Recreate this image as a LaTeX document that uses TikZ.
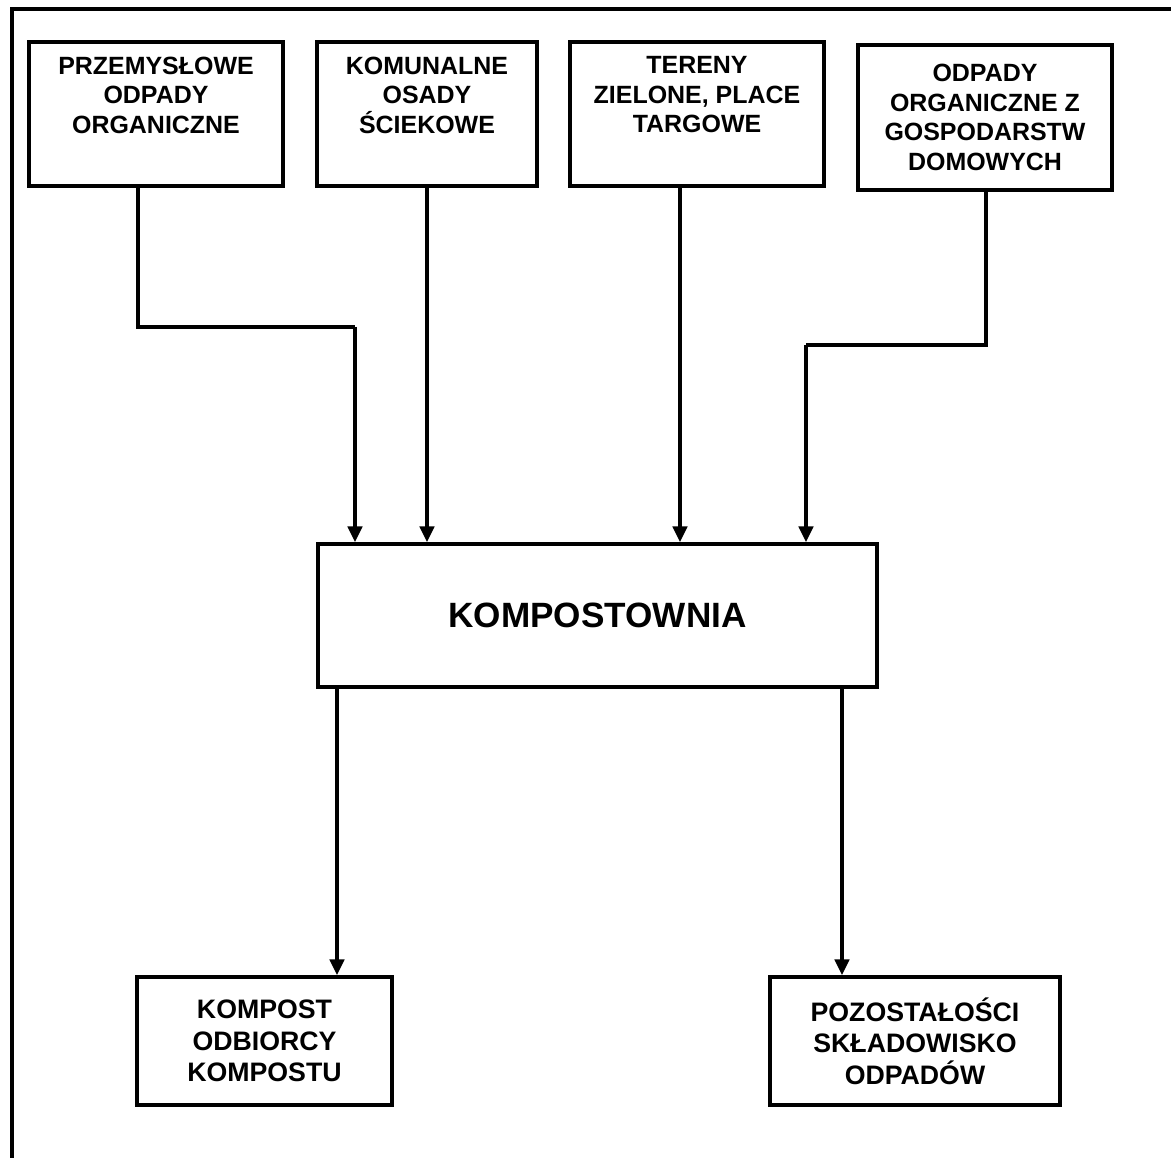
\documentclass[tikz,border=0pt]{standalone}
\usepackage{fontspec}
\setmainfont{Liberation Sans}
\usetikzlibrary{arrows.meta}

\def\pxu{0.02cm}

\tikzset{
  frame/.style={line width=2.5pt},
  srcbox/.style={draw, rectangle, line width=2pt, inner sep=0pt, align=center,
    font=\bfseries\fontsize{14.2}{16.8}\selectfont},
  mainbox/.style={draw, rectangle, line width=2pt, inner sep=0pt, align=center,
    font=\bfseries\fontsize{20}{23}\selectfont},
  endbox/.style={draw, rectangle, line width=2pt, inner sep=0pt, align=center,
    font=\bfseries\fontsize{15.2}{17.9}\selectfont},
  flow/.style={line width=2.5pt, -{Triangle[length=9pt,width=8pt]}},
  link/.style={line width=2.5pt}
}

\begin{document}
\begin{tikzpicture}[x=0.02cm, y=-0.02cm]
  \useasboundingbox (0,0) rectangle (1171,1158);

  % outer frame
  \draw[frame] (12,1200) -- (12,9) -- (1200,9);

  % sources
  \node[srcbox, minimum width=254*\pxu, minimum height=144*\pxu] (przem) at (156,114)
    {PRZEMYSŁOWE\\ODPADY\\ORGANICZNE\\\strut};
  \node[srcbox, minimum width=220*\pxu, minimum height=144*\pxu] (komun) at (427,114)
    {KOMUNALNE\\OSADY\\ŚCIEKOWE\\\strut};
  \node[srcbox, minimum width=254*\pxu, minimum height=144*\pxu] (tereny) at (697,114)
    {TERENY\\ZIELONE, PLACE\\TARGOWE\\\strut};
  \node[srcbox, minimum width=254*\pxu, minimum height=145*\pxu] (domowe) at (985,117.5)
    {ODPADY\\ORGANICZNE Z\\GOSPODARSTW\\DOMOWYCH};

  % composting plant
  \node[mainbox, minimum width=559*\pxu, minimum height=143*\pxu] (kompostownia) at (597.5,615.5)
    {KOMPOSTOWNIA};

  % outputs
  \node[endbox, minimum width=255*\pxu, minimum height=128*\pxu] (kompost) at (264.5,1041)
    {KOMPOST\\ODBIORCY\\KOMPOSTU};
  \node[endbox, minimum width=290*\pxu, minimum height=128*\pxu] (pozost) at (915,1041)
    {POZOSTAŁOŚCI\\SKŁADOWISKO\\ODPADÓW};

  % lanes
  \coordinate (lane1) at (138,0);
  \coordinate (bend1) at (355,327);
  \coordinate (lane2) at (427,0);
  \coordinate (lane3) at (680,0);
  \coordinate (lane4) at (986,0);
  \coordinate (bend4) at (806,345);
  \coordinate (out1) at (337,0);
  \coordinate (out2) at (842,0);

  \draw[link] (przem.south -| lane1) |- (bend1);
  \draw[flow] (bend1) -- (kompostownia.north -| bend1);
  \draw[flow] (komun.south -| lane2) -- (kompostownia.north -| lane2);
  \draw[flow] (tereny.south -| lane3) -- (kompostownia.north -| lane3);
  \draw[link] (domowe.south -| lane4) |- (bend4);
  \draw[flow] (bend4) -- (kompostownia.north -| bend4);

  \draw[flow] (kompostownia.south -| out1) -- (kompost.north -| out1);
  \draw[flow] (kompostownia.south -| out2) -- (pozost.north -| out2);
\end{tikzpicture}
\end{document}
